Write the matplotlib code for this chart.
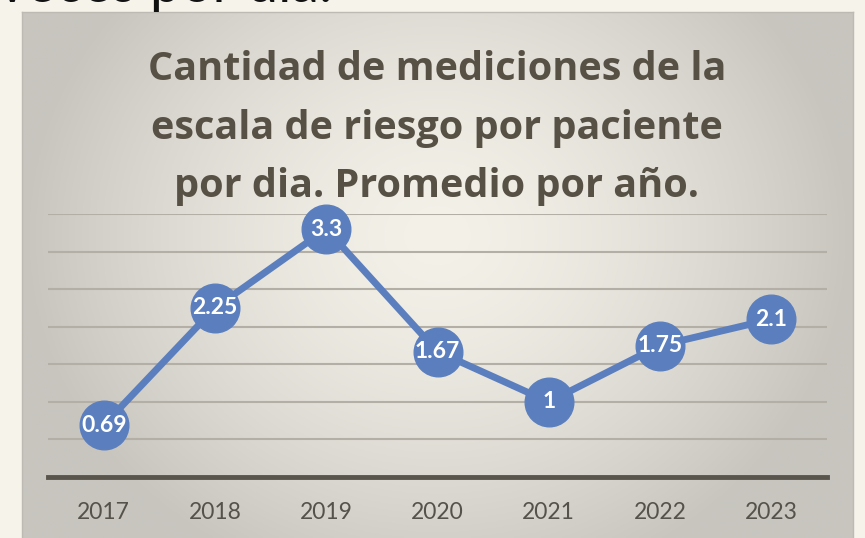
import numpy as np
import matplotlib.pyplot as plt

# data
years = ['2017', '2018', '2019', '2020', '2021', '2022', '2023']
valores = [0.69, 2.25, 3.3, 1.67, 1.0, 1.75, 2.1]
etiquetas = ['0.69', '2.25', '3.3', '1.67', '1', '1.75', '2.1']
titulo = ['Cantidad de mediciones de la',
          'escala de riesgo por paciente',
          'por dia. Promedio por año.']

W, H = 865, 538
fig = plt.figure(figsize=(W / 100, H / 100), dpi=100)
fig.patch.set_facecolor('#F6F3EB')

# text cut off above the chart
fig.text(332 / W, 1 - 2 / H, 'veces por dia.', ha='right', va='baseline',
         fontsize=40, color='#111111', family='Lato')

# gray gradient panel behind the chart
bg = fig.add_axes([22 / W, 0, (853 - 22) / W, (538 - 12) / H])
gx, gy = np.meshgrid(np.linspace(-1, 1, 300), np.linspace(-1, 1, 200))
d = np.clip(np.sqrt((gx / 1.0) ** 2 + ((gy + 0.15) / 1.4) ** 2), 0, 1)
light = np.array([244, 241, 233]) / 255
dark = np.array([200, 197, 191]) / 255
img = light + (dark - light) * (d[..., None] ** 1.5)
bg.imshow(img, aspect='auto', extent=[0, 1, 0, 1])
bg.set_xlim(0, 1)
bg.set_ylim(0, 1)
for s in bg.spines.values():
    s.set_color('#BDBAB3')
    s.set_linewidth(1)
bg.spines['bottom'].set_visible(False)
bg.set_xticks([])
bg.set_yticks([])

for i, line in enumerate(titulo):
    fig.text(437 / W, 1 - (80 + i * 58.5) / H, line, ha='center', va='baseline',
             fontsize=28.5, fontweight='bold', color='#575045', family='Open Sans')

ax = fig.add_axes([48 / W, (538 - 477) / H, (827 - 48) / W, 263 / H])
ax.patch.set_alpha(0)
x = np.arange(len(years))
ax.plot(x, valores, color='#5B7FBE', lw=5, marker='o', markersize=35,
        clip_on=False, zorder=3)
for xi, v, t in zip(x, valores, etiquetas):
    ax.text(xi, v, t, ha='center', va='center', color='white', fontsize=16.5,
            fontweight='bold', family='Lato', zorder=4)

ax.set_xlim(-0.5, len(years) - 0.5)
ax.set_ylim(0, 3.5)
ax.set_yticks(np.arange(0.5, 3.51, 0.5))
ax.yaxis.grid(True, color='#B3AEA6', lw=1.5)
ax.set_axisbelow(True)
ax.tick_params(axis='y', length=0, labelleft=False)
ax.set_xticks(x)
ax.set_xticklabels(years, fontsize=16.5, color='#55514B', family='Lato')
ax.tick_params(axis='x', length=0, pad=18)
for s in ['top', 'left', 'right']:
    ax.spines[s].set_visible(False)
ax.spines['bottom'].set_color('#5A554C')
ax.spines['bottom'].set_linewidth(3.5)

fig.savefig('out.png', dpi=100, facecolor=fig.get_facecolor())
